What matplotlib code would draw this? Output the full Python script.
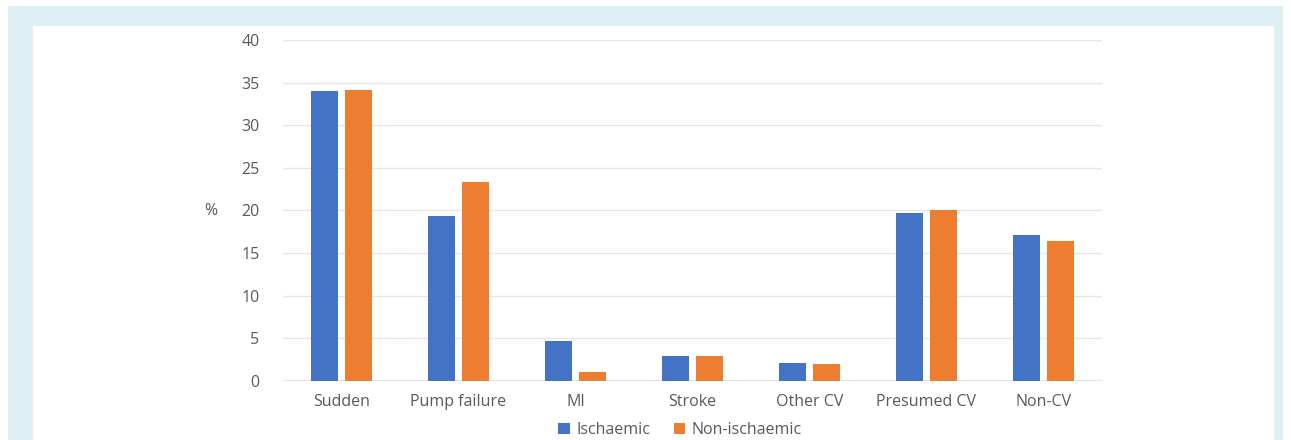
import numpy as np
import matplotlib
matplotlib.use('Agg')
import matplotlib.pyplot as plt
from matplotlib.patches import Rectangle

# chart data
categories = ['Sudden', 'Pump failure', 'MI', 'Stroke', 'Other CV', 'Presumed CV', 'Non-CV']
ischaemic = [34.0, 19.3, 4.7, 2.9, 2.1, 19.7, 17.1]
non_ischaemic = [34.1, 23.4, 1.0, 2.9, 1.95, 20.1, 16.4]
series_names = ['Ischaemic', 'Non-ischaemic']
y_ticks = [0, 5, 10, 15, 20, 25, 30, 35, 40]

BLUE = '#4472C4'
ORANGE = '#ED7D31'
TEXT = '#595959'
FS = 11.5

plt.rcParams['font.family'] = ['Open Sans', 'DejaVu Sans']

fig = plt.figure(figsize=(12.91, 4.40), dpi=100)
W, H = 1291, 440

# light blue frame with white inner panel
fig.patches.append(Rectangle((8 / W, 0), (1283 - 8) / W, (440 - 6) / H,
                             transform=fig.transFigure, facecolor='#dff0f4',
                             edgecolor='none', zorder=-2))
fig.patches.append(Rectangle((33 / W, 0), (1274 - 33) / W, (440 - 26) / H,
                             transform=fig.transFigure, facecolor='white',
                             edgecolor='none', zorder=-1))

ax = fig.add_axes([283 / W, 1 - 381 / H, (1102 - 283) / W, (381 - 40) / H])
ax.patch.set_alpha(0)

x = np.arange(len(categories))
width = 0.23
offset = 0.145
ax.bar(x - offset, ischaemic, width, color=BLUE, label=series_names[0], zorder=3)
ax.bar(x + offset, non_ischaemic, width, color=ORANGE, label=series_names[1], zorder=3)

ax.set_xlim(-0.5, len(categories) - 0.5)
ax.set_ylim(0, 40)
ax.set_yticks(y_ticks)
ax.set_xticks(x)
ax.set_xticklabels(categories)
ax.tick_params(axis='both', length=0, colors=TEXT, labelsize=FS)
ax.tick_params(axis='y', pad=17)
ax.tick_params(axis='x', pad=9)
ax.grid(axis='y', color='#e6e6e6', linewidth=1, zorder=0)
for s in ax.spines.values():
    s.set_visible(False)
ax.axhline(0, color='#e0e0e0', linewidth=1.2, zorder=2)

fig.text(211 / W, 1 - 211 / H, '%', color=TEXT, fontsize=FS, ha='center', va='center')

fig.legend(loc='center', bbox_to_anchor=(680 / W, 1 - 430 / H), ncol=2,
           frameon=False, fontsize=FS, labelcolor=TEXT, handlelength=0.7,
           handleheight=0.7, handletextpad=0.4, columnspacing=1.5)

fig.savefig('out.png', dpi=100)
